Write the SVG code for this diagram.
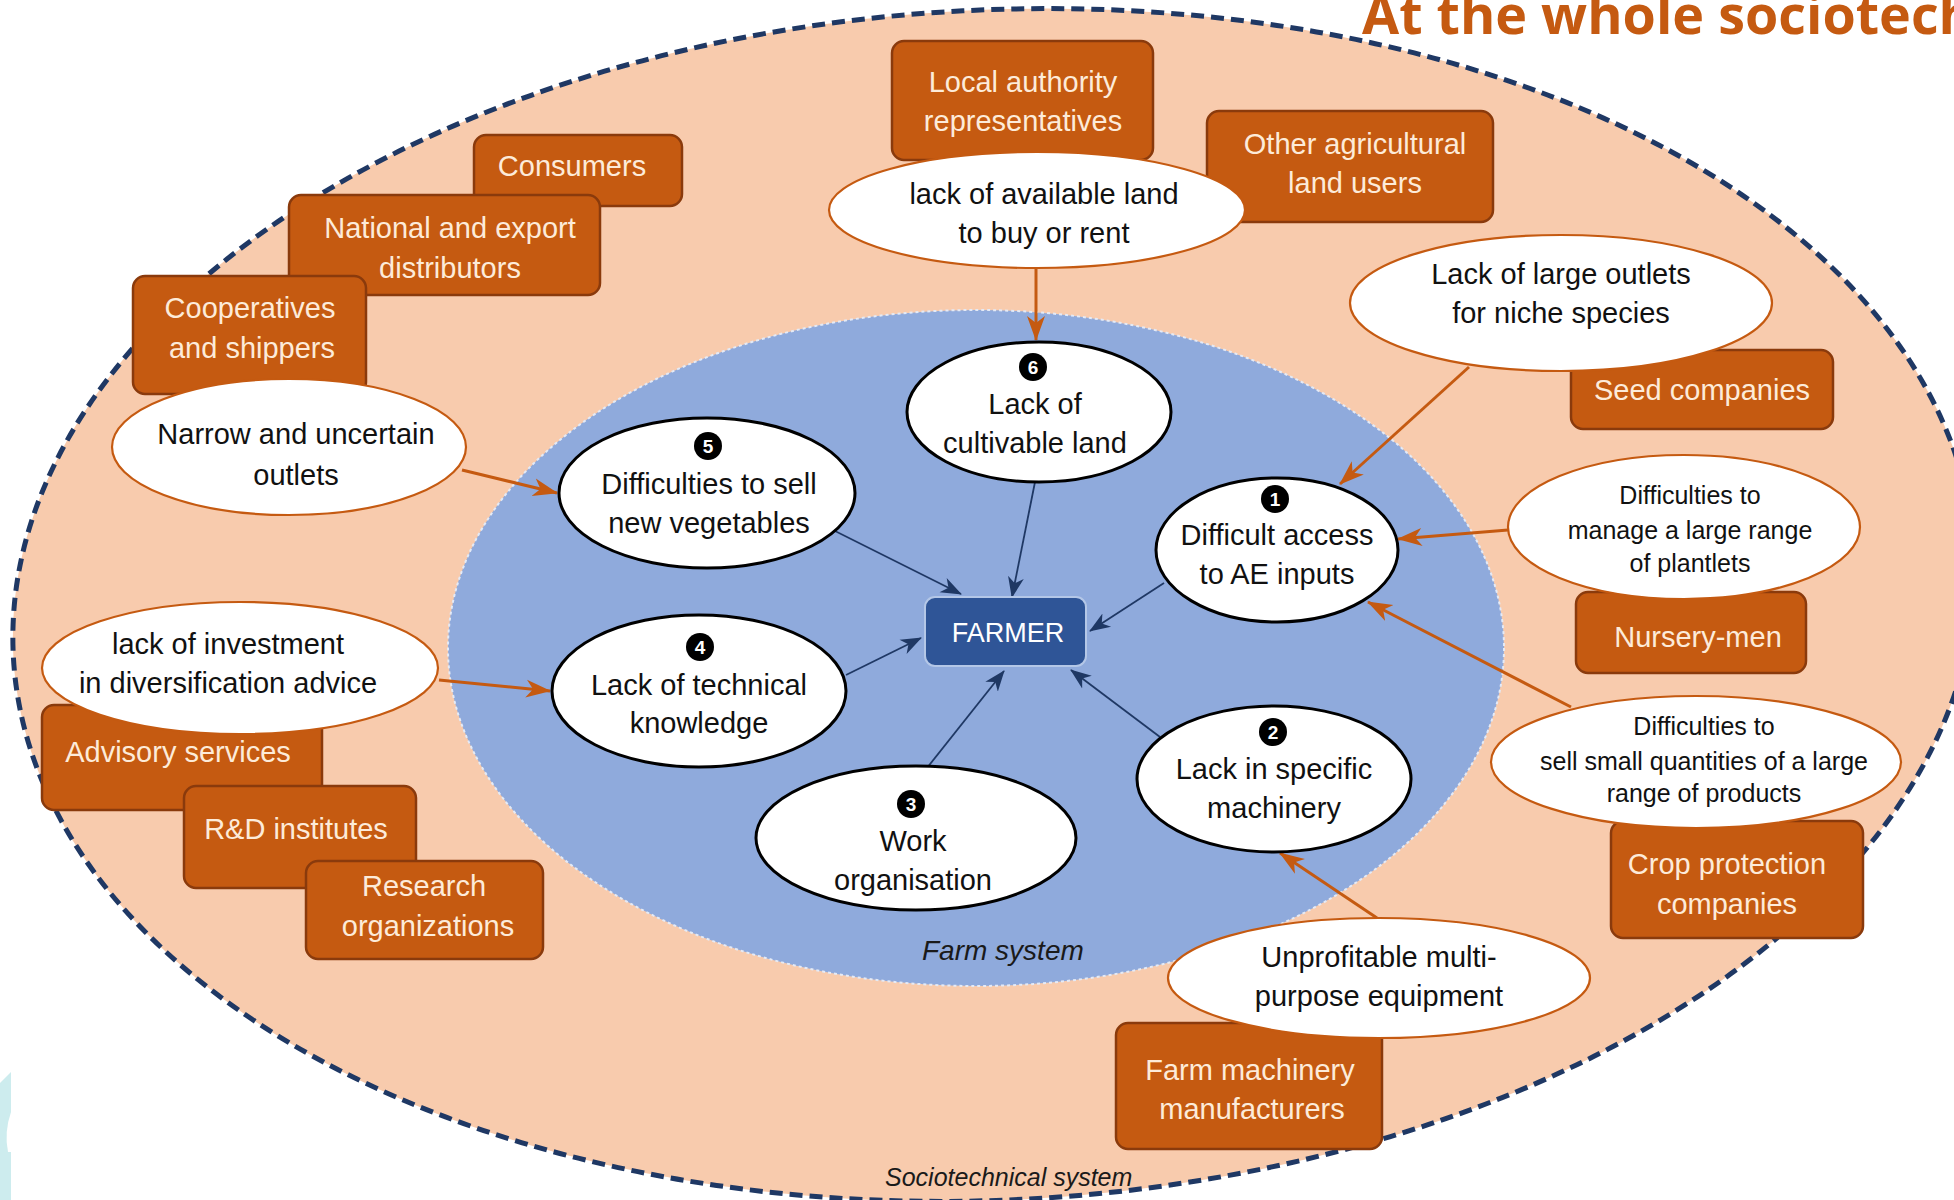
<svg xmlns="http://www.w3.org/2000/svg" width="1954" height="1200" viewBox="0 0 1954 1200">
<defs>
<style>
.box{fill:#C55A11;stroke:#8A3A0C;stroke-width:2.5}
.bt{font-family:"Liberation Sans",Arial,sans-serif;font-size:29px;fill:#FDEBD9;text-anchor:middle}
.oel{fill:#FFFFFF;stroke:#C55A11;stroke-width:2.2}
.iel{fill:#FFFFFF;stroke:#000000;stroke-width:3}
.nt{font-family:"Liberation Sans",Arial,sans-serif;font-size:29px;fill:#111111;text-anchor:middle}
.st{font-family:"Liberation Sans",Arial,sans-serif;font-size:25px;fill:#111111;text-anchor:middle}
.badge{fill:#000000}
.bn{font-family:"Liberation Sans",Arial,sans-serif;font-size:19px;font-weight:bold;fill:#FFFFFF;text-anchor:middle}
.oa{stroke:#C55A11;stroke-width:3;fill:none;marker-end:url(#ao)}
.ba{stroke:#1F3864;stroke-width:1.8;fill:none;marker-end:url(#ab)}
.lbl{font-family:"Liberation Sans",Arial,sans-serif;font-style:italic;fill:#1a1a1a}
</style>
<marker id="ao" markerUnits="userSpaceOnUse" markerWidth="26" markerHeight="20" viewBox="0 0 26 20" refX="24" refY="10" orient="auto">
<path d="M0,1 L25,10 L0,19 L7,10 Z" fill="#C55A11"/>
</marker>
<marker id="ab" markerUnits="userSpaceOnUse" markerWidth="22" markerHeight="18" viewBox="0 0 22 18" refX="20" refY="9" orient="auto">
<path d="M0,1 L21,9 L0,17 L6,9 Z" fill="#1F3864"/>
</marker>
</defs>

<rect x="0" y="0" width="1954" height="1200" fill="#FFFFFF"/>

<g id="sociotechnical-system">
<ellipse cx="994" cy="605" rx="982" ry="595" transform="rotate(-3 994 605)" fill="#F8CBAD" stroke="#1F3864" stroke-width="5" stroke-dasharray="13 7"/>
</g>
<g id="farm-system">
<ellipse cx="976" cy="648" rx="528" ry="338" fill="#8FAADC" stroke="#E4EAF6" stroke-width="2" stroke-dasharray="3 3"/>
</g>

<g id="title">
<text x="1362" y="34" font-family="'Open Sans','Liberation Sans',sans-serif" font-weight="bold" font-size="53" fill="#C55A11" textLength="612" lengthAdjust="spacingAndGlyphs">At the whole sociotech</text>
</g>

<g id="deco">
<path d="M0,1083 L11,1072 L11,1200 L0,1200 Z" fill="#CDECEE"/>
<path d="M11,1112 Q4,1132 8,1152 L11,1152 Z" fill="#FFFFFF"/>
</g>

<g id="labels">
<text class="lbl" x="922" y="960" font-size="28">Farm system</text>
<text class="lbl" x="885" y="1186" font-size="25">Sociotechnical system</text>
</g>

<g id="connectors">
<line class="oa" x1="462" y1="470" x2="557" y2="493"/>
<line class="oa" x1="1036" y1="268" x2="1036" y2="340"/>
<line class="oa" x1="1469" y1="367" x2="1340" y2="484"/>
<line class="oa" x1="1508" y1="530" x2="1398" y2="539"/>
<line class="oa" x1="1571" y1="707" x2="1368" y2="602"/>
<line class="oa" x1="1377" y1="918" x2="1280" y2="853"/>
<line class="oa" x1="439" y1="680" x2="550" y2="691"/>
<line class="ba" x1="829" y1="528" x2="961" y2="594"/>
<line class="ba" x1="846" y1="675" x2="921" y2="638"/>
<line class="ba" x1="919" y1="778" x2="1004" y2="671"/>
<line class="ba" x1="1036" y1="477" x2="1012" y2="597"/>
<line class="ba" x1="1164" y1="583" x2="1090" y2="631"/>
<line class="ba" x1="1160" y1="737" x2="1071" y2="670"/>
</g>

<g id="consumers"><rect class="box" x="474" y="135" width="208" height="71" rx="12"/><text class="bt" x="572" y="176">Consumers</text></g>
<g id="distributors"><rect class="box" x="289" y="195" width="311" height="100" rx="12"/><text class="bt" x="450" y="238">National and export</text><text class="bt" x="450" y="278">distributors</text></g>
<g id="cooperatives"><rect class="box" x="133" y="276" width="233" height="118" rx="12"/><text class="bt" x="250" y="318">Cooperatives</text><text class="bt" x="252" y="358">and shippers</text></g>
<g id="narrow-outlets"><ellipse class="oel" cx="289" cy="447" rx="177" ry="68"/><text class="nt" x="296" y="444">Narrow and uncertain</text><text class="nt" x="296" y="485">outlets</text></g>

<g id="local-authority"><rect class="box" x="892" y="41" width="261" height="119" rx="12"/><text class="bt" x="1023" y="92">Local authority</text><text class="bt" x="1023" y="131">representatives</text></g>
<g id="other-land-users"><rect class="box" x="1207" y="111" width="286" height="111" rx="12"/><text class="bt" x="1355" y="154">Other agricultural</text><text class="bt" x="1355" y="193">land users</text></g>
<g id="available-land"><ellipse class="oel" cx="1037" cy="210" rx="208" ry="58"/><text class="nt" x="1044" y="204">lack of available  land</text><text class="nt" x="1044" y="243">to buy or rent</text></g>

<g id="seed-companies"><rect class="box" x="1571" y="350" width="262" height="79" rx="12"/><text class="bt" x="1702" y="400">Seed companies</text></g>
<g id="niche-outlets"><ellipse class="oel" cx="1561" cy="303" rx="211" ry="68"/><text class="nt" x="1561" y="284">Lack of large outlets</text><text class="nt" x="1561" y="323">for niche species</text></g>

<g id="nursery-men"><rect class="box" x="1576" y="592" width="230" height="81" rx="12"/><text class="bt" x="1698" y="647">Nursery-men</text></g>
<g id="plantlets"><ellipse class="oel" cx="1684" cy="527" rx="176" ry="72"/><text class="st" x="1690" y="504">Difficulties to</text><text class="st" x="1690" y="539">manage a large range</text><text class="st" x="1690" y="572">of plantlets</text></g>

<g id="crop-protection"><rect class="box" x="1611" y="821" width="252" height="117" rx="12"/><text class="bt" x="1727" y="874">Crop protection</text><text class="bt" x="1727" y="914">companies</text></g>
<g id="small-quantities"><ellipse class="oel" cx="1696" cy="762" rx="205" ry="66"/><text class="st" x="1704" y="735">Difficulties to</text><text class="st" x="1704" y="770">sell small quantities of a large</text><text class="st" x="1704" y="802">range of products</text></g>

<g id="farm-machinery"><rect class="box" x="1116" y="1023" width="266" height="126" rx="12"/><text class="bt" x="1250" y="1080">Farm machinery</text><text class="bt" x="1252" y="1119">manufacturers</text></g>
<g id="unprofitable"><ellipse class="oel" cx="1379" cy="978" rx="211" ry="60"/><text class="nt" x="1379" y="967">Unprofitable  multi-</text><text class="nt" x="1379" y="1006">purpose equipment</text></g>

<g id="advisory"><rect class="box" x="42" y="705" width="280" height="105" rx="12"/><text class="bt" x="178" y="762">Advisory  services</text></g>
<g id="rd-institutes"><rect class="box" x="184" y="786" width="232" height="102" rx="12"/><text class="bt" x="296" y="839">R&amp;D institutes</text></g>
<g id="research"><rect class="box" x="306" y="861" width="237" height="98" rx="12"/><text class="bt" x="424" y="896">Research</text><text class="bt" x="428" y="936">organizations</text></g>
<g id="investment"><ellipse class="oel" cx="240" cy="668" rx="198" ry="66"/><text class="nt" x="228" y="654">lack of investment</text><text class="nt" x="228" y="693">in diversification  advice</text></g>

<g id="farmer"><rect x="925" y="597" width="161" height="69" rx="10" fill="#2F5597" stroke="#B4C7E7" stroke-width="2"/><text x="1008" y="642" font-family="'Liberation Sans',Arial,sans-serif" font-size="27" fill="#FFFFFF" text-anchor="middle">FARMER</text></g>

<g id="c1-ae-inputs"><ellipse class="iel" cx="1277" cy="550" rx="121" ry="72"/><circle class="badge" cx="1275" cy="499" r="14"/><text class="bn" x="1275" y="506">1</text><text class="nt" x="1277" y="545">Difficult access</text><text class="nt" x="1277" y="584">to AE inputs</text></g>
<g id="c2-machinery"><ellipse class="iel" cx="1274" cy="779" rx="137" ry="73"/><circle class="badge" cx="1273" cy="732" r="14"/><text class="bn" x="1273" y="739">2</text><text class="nt" x="1274" y="779">Lack in specific</text><text class="nt" x="1274" y="818">machinery</text></g>
<g id="c3-work"><ellipse class="iel" cx="916" cy="838" rx="160" ry="72"/><circle class="badge" cx="911" cy="804" r="14"/><text class="bn" x="911" y="811">3</text><text class="nt" x="913" y="851">Work</text><text class="nt" x="913" y="890">organisation</text></g>
<g id="c4-knowledge"><ellipse class="iel" cx="699" cy="691" rx="147" ry="76"/><circle class="badge" cx="700" cy="647" r="14"/><text class="bn" x="700" y="654">4</text><text class="nt" x="699" y="695">Lack of technical</text><text class="nt" x="699" y="733">knowledge</text></g>
<g id="c5-sell"><ellipse class="iel" cx="707" cy="493" rx="148" ry="75"/><circle class="badge" cx="708" cy="446" r="14"/><text class="bn" x="708" y="453">5</text><text class="nt" x="709" y="494">Difficulties to sell</text><text class="nt" x="709" y="533">new vegetables</text></g>
<g id="c6-land"><ellipse class="iel" cx="1039" cy="412" rx="132" ry="70"/><circle class="badge" cx="1033" cy="367" r="14"/><text class="bn" x="1033" y="374">6</text><text class="nt" x="1035" y="414">Lack of</text><text class="nt" x="1035" y="453">cultivable  land</text></g>
</svg>
